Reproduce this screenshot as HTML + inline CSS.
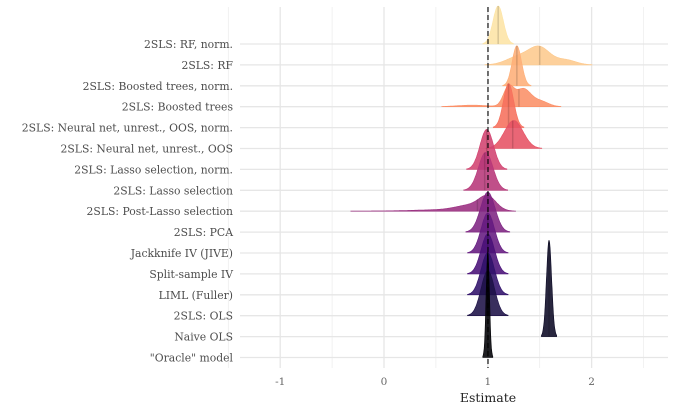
<!DOCTYPE html>
<html><head><meta charset="utf-8"><style>
body{margin:0;background:#fff}
text{font-family:"DejaVu Serif","Liberation Serif",serif}
</style></head><body>
<svg id="chart" width="675" height="413" xmlns="http://www.w3.org/2000/svg">
<g id="grid"></g>
<g id="ridges"></g>
<g id="labels"></g>
<g id="xticks"></g>
<line x1="488" x2="488" y1="7" y2="368" stroke="#000" stroke-width="1.1" stroke-dasharray="5,3"/>
<text x="488" y="402" text-anchor="middle" font-size="12.5" fill="#222">Estimate</text>
</svg>
<script>
const categories=["2SLS: RF, norm.","2SLS: RF","2SLS: Boosted trees, norm.","2SLS: Boosted trees","2SLS: Neural net, unrest., OOS, norm.","2SLS: Neural net, unrest., OOS","2SLS: Lasso selection, norm.","2SLS: Lasso selection","2SLS: Post-Lasso selection","2SLS: PCA","Jackknife IV (JIVE)","Split-sample IV","LIML (Fuller)","2SLS: OLS","Naive OLS","\"Oracle\" model"];
// mixture components per row: [mean, sd, weight]
const components=[
[[1.1,0.05,1]],
[[1.5,0.1,1],[1.3,0.12,0.5],[1.75,0.1,0.3]],
[[1.28,0.045,1]],
[[1.2,0.05,1],[1.34,0.07,0.9],[1.5,0.08,0.3],[0.85,0.15,0.08]],
[[1.2,0.05,1]],
[[1.25,0.09,1]],
[[0.99,0.065,1]],
[[0.98,0.07,1]],
[[1.0,0.08,1],[0.85,0.15,0.5],[0.5,0.22,0.1],[0.0,0.35,0.02]],
[[1.0,0.07,1]],
[[1.0,0.065,1]],
[[1.0,0.065,1]],
[[1.0,0.065,1]],
[[1.0,0.065,1]],
[[1.59,0.025,1]],
[[1.0,0.016,1]]];
const peaks=[38,19,40,22,44,28,40,38,16,40,40,40,42,45,96,106];
const medians=[1.1,1.5,1.28,1.3,1.2,1.24,0.99,0.97,0.9,1.0,1.0,1.0,1.0,1.0,1.59,1.0];
const colors=["#fde4a5","#fdc98d","#feae77","#fb8f67","#f6705c","#e65163","#d2426f","#b73779","#9a2e80","#7e2482","#641a80","#491078","#30116a","#1d1147","#0b0924","#000004"];
const xTicks=[-1,0,1,2];
const xMinor=[-1.5,-0.5,0.5,1.5,2.5];
const X=v=>384+(v-0)*103.8;
const Y=i=>44+i*20.9;
const ns="http://www.w3.org/2000/svg";
function mk(tag,attrs,parent){const e=document.createElementNS(ns,tag);for(const k in attrs)e.setAttribute(k,attrs[k]);parent.appendChild(e);return e;}
const grid=document.getElementById('grid');
xMinor.forEach(v=>{const l=mk('line',{x1:X(v),x2:X(v),y1:7,y2:368,stroke:'#ececec','stroke-width':0.7},grid);

});
xTicks.forEach(v=>{const l=mk('line',{x1:X(v),x2:X(v),y1:7,y2:368,stroke:'#e6e6e6','stroke-width':1.3},grid);

});
categories.forEach((c,i)=>{const l=mk('line',{x1:240,x2:668,y1:Y(i),y2:Y(i),stroke:'#e6e6e6','stroke-width':1.3},grid);

});
const ridges=document.getElementById('ridges');
function dens(comps,x){let s=0;comps.forEach(([m,sd,w])=>{s+=w*Math.exp(-0.5*((x-m)/sd)**2);});return s;}
categories.forEach((c,i)=>{
 const comps=components[i];let mx=0;const xs=[];
 for(let x=-1.3;x<=2.7;x+=0.004){xs.push(x);mx=Math.max(mx,dens(comps,x));}
 let d='';let open=false;let last=null;
 xs.forEach(x=>{const f=dens(comps,x)/mx;
  if(f>0.01){const y=Y(i)-f*peaks[i];
   if(!open){d+='M'+X(x).toFixed(1)+','+Y(i)+'L'+X(x).toFixed(1)+','+y.toFixed(1);open=true;}
   else d+='L'+X(x).toFixed(1)+','+y.toFixed(1);last=x;}
  else if(open){d+='L'+X(last).toFixed(1)+','+Y(i)+'Z';open=false;}});
 if(open)d+='L'+X(last).toFixed(1)+','+Y(i)+'Z';
 const p=mk('path',{d:d,fill:colors[i],'fill-opacity':0.88,stroke:colors[i],'stroke-width':0.6},ridges);
 
 
 const fm=dens(comps,medians[i])/mx;
 const m=mk('line',{x1:X(medians[i]),x2:X(medians[i]),y1:Y(i),y2:Y(i)-fm*peaks[i],stroke:'#000','stroke-opacity':0.15,'stroke-width':1.5},ridges);
 
 
});
const lab=document.getElementById('labels');
categories.forEach((c,i)=>{const t=mk('text',{x:233,y:Y(i)+4,'text-anchor':'end','font-size':10.8,fill:'#4d4d4d'},lab);t.textContent=c;

});
const xt=document.getElementById('xticks');
xTicks.forEach(v=>{const t=mk('text',{x:X(v),y:385,'text-anchor':'middle','font-size':10.5,fill:'#666'},xt);t.textContent=v;

});
</script>
</body></html>
